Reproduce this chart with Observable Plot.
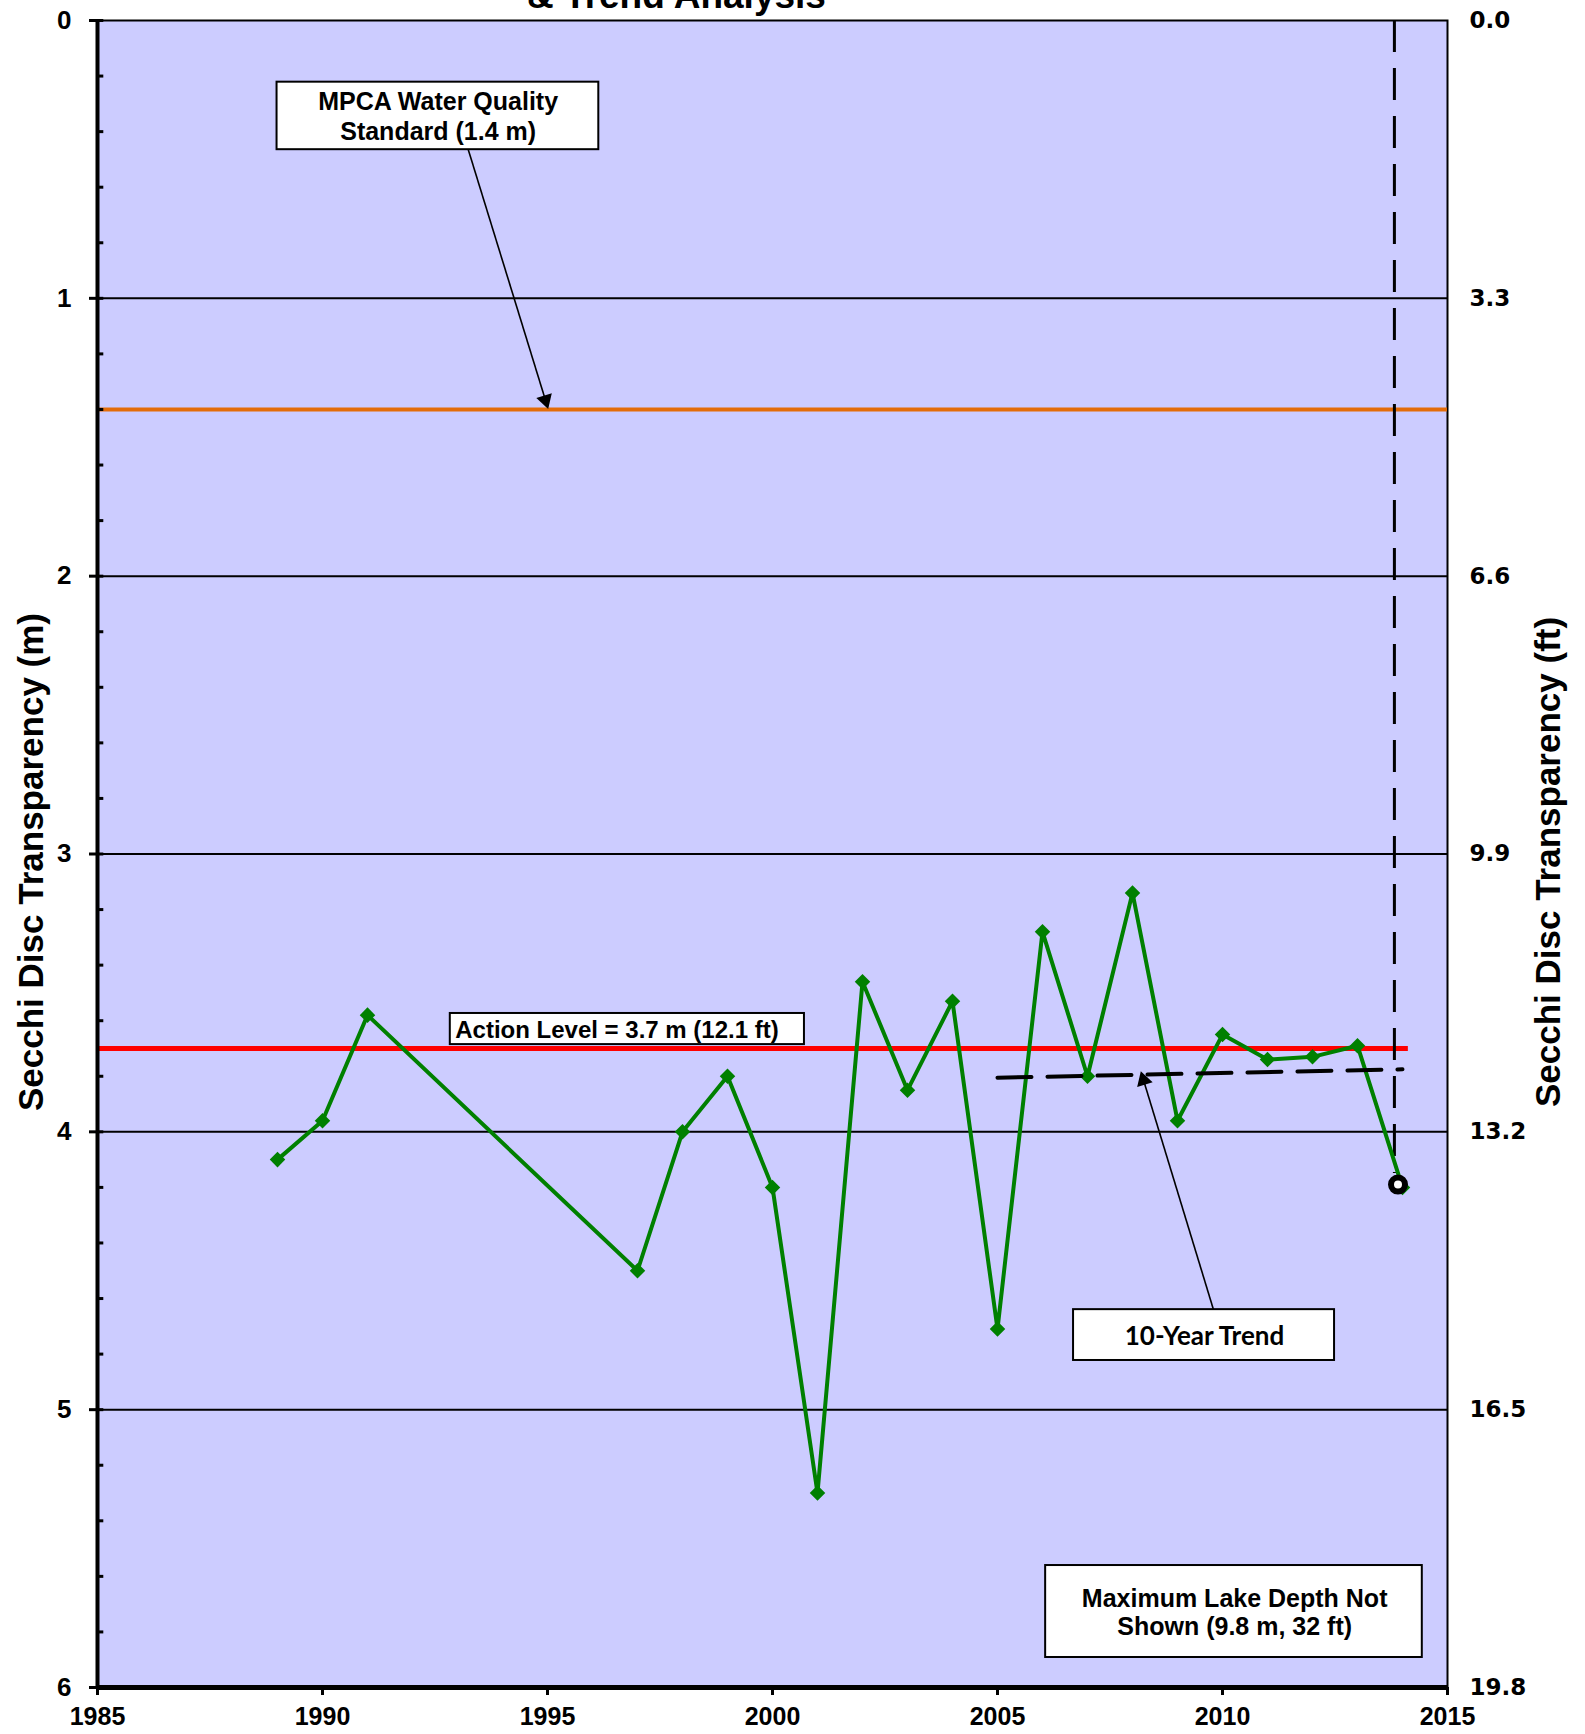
<!DOCTYPE html>
<html>
<head>
<meta charset="utf-8">
<script src="https://cdn.jsdelivr.net/npm/d3@7"></script>
<script src="https://cdn.jsdelivr.net/npm/@observablehq/plot@0.6"></script>
<style>
  html, body { margin: 0; padding: 0; background: #ffffff; }
  #chart svg { display: block; overflow: visible; }
</style>
</head>
<body>
<div id="chart"></div>
<script>
// ---- data ----
const years = [1989, 1990, 1991, 1997, 1998, 1999, 2000, 2001, 2002, 2003, 2004,
               2005, 2006, 2007, 2008, 2009, 2010, 2011, 2012, 2013, 2014];
const secchiM = [4.10, 3.96, 3.58, 4.50, 4.00, 3.80, 4.20, 5.30, 3.46, 3.85, 3.53,
                 4.71, 3.28, 3.80, 3.14, 3.96, 3.65, 3.74, 3.73, 3.69, 4.20];
const trendYears = [2005, 2014];
const trendM = [3.805, 3.775];
const standardM = 1.4;
const actionM = 3.7;
const actionEndYear = 2014.13;
const markerYear = 2013.82;
const markerM = 4.19;
const xTicks = [1985, 1990, 1995, 2000, 2005, 2010, 2015];
const yTicks = [0, 1, 2, 3, 4, 5, 6];
const ftLabels = ["0.0", "3.3", "6.6", "9.9", "13.2", "16.5", "19.8"];
const minorTicks = d3.range(0, 6.001, 0.2);
const gridM = [1, 2, 3, 4, 5];

const data = years.map((y, i) => ({year: y, m: secchiM[i]}));
const trend = trendYears.map((y, i) => ({year: y, m: trendM[i]}));

// ---- layout ----
const W = 1585, H = 1734;
const mL = 97, mR = 138, mT = 20, mB = 47;
const kx = (W - mL - mR) / 30;      // px per year
const ky = (H - mT - mB) / 6;       // px per metre

// annotation boxes (data space)
const boxes = [
  {x1: 1988.99, x2: 1996.14, y1: 0.222, y2: 0.465},
  {x1: 1992.84, x2: 2000.71, y1: 3.574, y2: 3.686},
  {x1: 2006.69, x2: 2012.49, y1: 4.640, y2: 4.823},
  {x1: 2006.07, x2: 2014.44, y1: 5.561, y2: 5.892}
];
const arrows = [
  {x1: 1993.24, y1: 0.465, x2: 1995.0, y2: 1.39},
  {x1: 2009.80, y1: 4.640, x2: 2008.2, y2: 3.79}
];
const headR = 6;
const headTip = 2 * Math.sqrt(Math.PI * headR * headR / (Math.sqrt(3) * 3));
arrows.forEach(a => {
  const px = (a.x2 - a.x1) * kx, py = (a.y2 - a.y1) * ky;
  const ang = Math.atan2(py, px);
  a.rotate = ang * 180 / Math.PI + 90;
  a.hdx = -Math.cos(ang) * headTip * 0.75;
  a.hdy = -Math.sin(ang) * headTip * 0.75;
});

const labelFont = "Liberation Sans, Arial, sans-serif";

const plot = Plot.plot({
  width: W, height: H,
  marginLeft: mL, marginRight: mR, marginTop: mT, marginBottom: mB,
  x: {domain: [1985, 2015], axis: null},
  y: {domain: [0, 6], reverse: true, axis: null},
  style: {background: "white", fontFamily: labelFont, color: "black", overflow: "visible"},
  marks: [
    Plot.frame({fill: "#CCCCFF", stroke: "black", strokeWidth: 2}),
    Plot.ruleY(gridM, {stroke: "black", strokeWidth: 2}),
    Plot.ruleY([standardM], {stroke: "#E36C09", strokeWidth: 4}),
    Plot.ruleY([actionM], {x1: 1985, x2: actionEndYear, stroke: "#FF0000", strokeWidth: 5}),
    Plot.ruleX([markerYear], {y1: 0, y2: 4.15, stroke: "black", strokeWidth: 3, strokeDasharray: "32,16"}),
    Plot.line(data, {x: "year", y: "m", stroke: "#008000", strokeWidth: 4}),
    Plot.dot(data, {x: "year", y: "m", symbol: "diamond2", r: 7, fill: "#008000"}),
    Plot.line(trend, {x: "year", y: "m", stroke: "black", strokeWidth: 4, strokeDasharray: "34,16"}),
    Plot.dot([{year: markerYear + 0.08, m: markerM}], {x: "year", y: "m", r: 7, fill: "white", stroke: "black", strokeWidth: 6}),
    // axis lines
    Plot.ruleX([1985], {stroke: "black", strokeWidth: 4}),
    Plot.ruleY([6], {stroke: "black", strokeWidth: 5}),
    Plot.ruleY(minorTicks, {x1: 1985, x2: 1985.14, stroke: "black", strokeWidth: 3}),
    // annotation boxes
    Plot.rect(boxes, {x1: "x1", x2: "x2", y1: "y1", y2: "y2", fill: "white", stroke: "black", strokeWidth: 2}),
    Plot.link(arrows, {x1: "x1", y1: "y1", x2: "x2", y2: "y2", stroke: "black", strokeWidth: 1.6}),
    Plot.dot([arrows[0]], {x: "x2", y: "y2", symbol: "triangle", r: headR, fill: "black",
                           rotate: arrows[0].rotate, dx: arrows[0].hdx, dy: arrows[0].hdy}),
    Plot.dot([arrows[1]], {x: "x2", y: "y2", symbol: "triangle", r: headR, fill: "black",
                           rotate: arrows[1].rotate, dx: arrows[1].hdx, dy: arrows[1].hdy}),
    Plot.text(["MPCA Water Quality", "Standard (1.4 m)"], {x: 1992.57, y: (d, i) => [0.294, 0.402][i], text: d => d,
              fontSize: 25, fontWeight: "bold", fontFamily: labelFont, fill: "black"}),
    Plot.text(["Action Level = 3.7 m (12.1 ft)"], {x: 1992.95, y: 3.634, textAnchor: "start",
              fontSize: 24, fontWeight: "bold", fontFamily: labelFont, fill: "black"}),
    Plot.text(["10-Year Trend"], {x: 2009.6, y: 4.737,
              fontSize: 26, fontWeight: "bold", fontFamily: "Lato, Carlito, sans-serif", fill: "black"}),
    Plot.text(["Maximum Lake Depth Not", "Shown (9.8 m, 32 ft)"], {x: 2010.27, y: (d, i) => [5.682, 5.782][i], text: d => d,
              fontSize: 25, fontWeight: "bold", fontFamily: labelFont, fill: "black"}),
    // axes
    Plot.axisX({ticks: xTicks, tickFormat: d => String(d), tickSize: 8, tickPadding: 12, strokeWidth: 3,
                fontSize: 25, fontWeight: "bold", fontFamily: labelFont}),
    Plot.axisY({anchor: "left", ticks: yTicks, tickFormat: d => String(d), tickSize: 8, tickPadding: 18, strokeWidth: 3,
                fontSize: 26, fontWeight: "bold", fontFamily: labelFont}),
    Plot.axisY({anchor: "right", ticks: yTicks, tickFormat: (d, i) => ftLabels[i], tickSize: 0, tickPadding: 22,
                fontSize: 23, fontWeight: "bold", fontFamily: "DejaVu Sans, sans-serif"}),
    Plot.text(["Secchi Disc Transparency (m)"], {frameAnchor: "left", textAnchor: "middle", dx: -66, dy: 8, rotate: -90,
              fontSize: 35, fontWeight: "bold", fontFamily: labelFont, fill: "black"}),
    Plot.text(["Secchi Disc Transparency (ft)"], {frameAnchor: "right", textAnchor: "middle", dx: 101, dy: 8, rotate: -90,
              fontSize: 35, fontWeight: "bold", fontFamily: labelFont, fill: "black"}),
    Plot.text(["& Trend Analysis"], {frameAnchor: "top", dx: -96, dy: -39,
              fontSize: 37, fontWeight: "bold", fontFamily: labelFont, fill: "black"})
  ]
});
document.getElementById("chart").appendChild(plot);
</script>
</body>
</html>
